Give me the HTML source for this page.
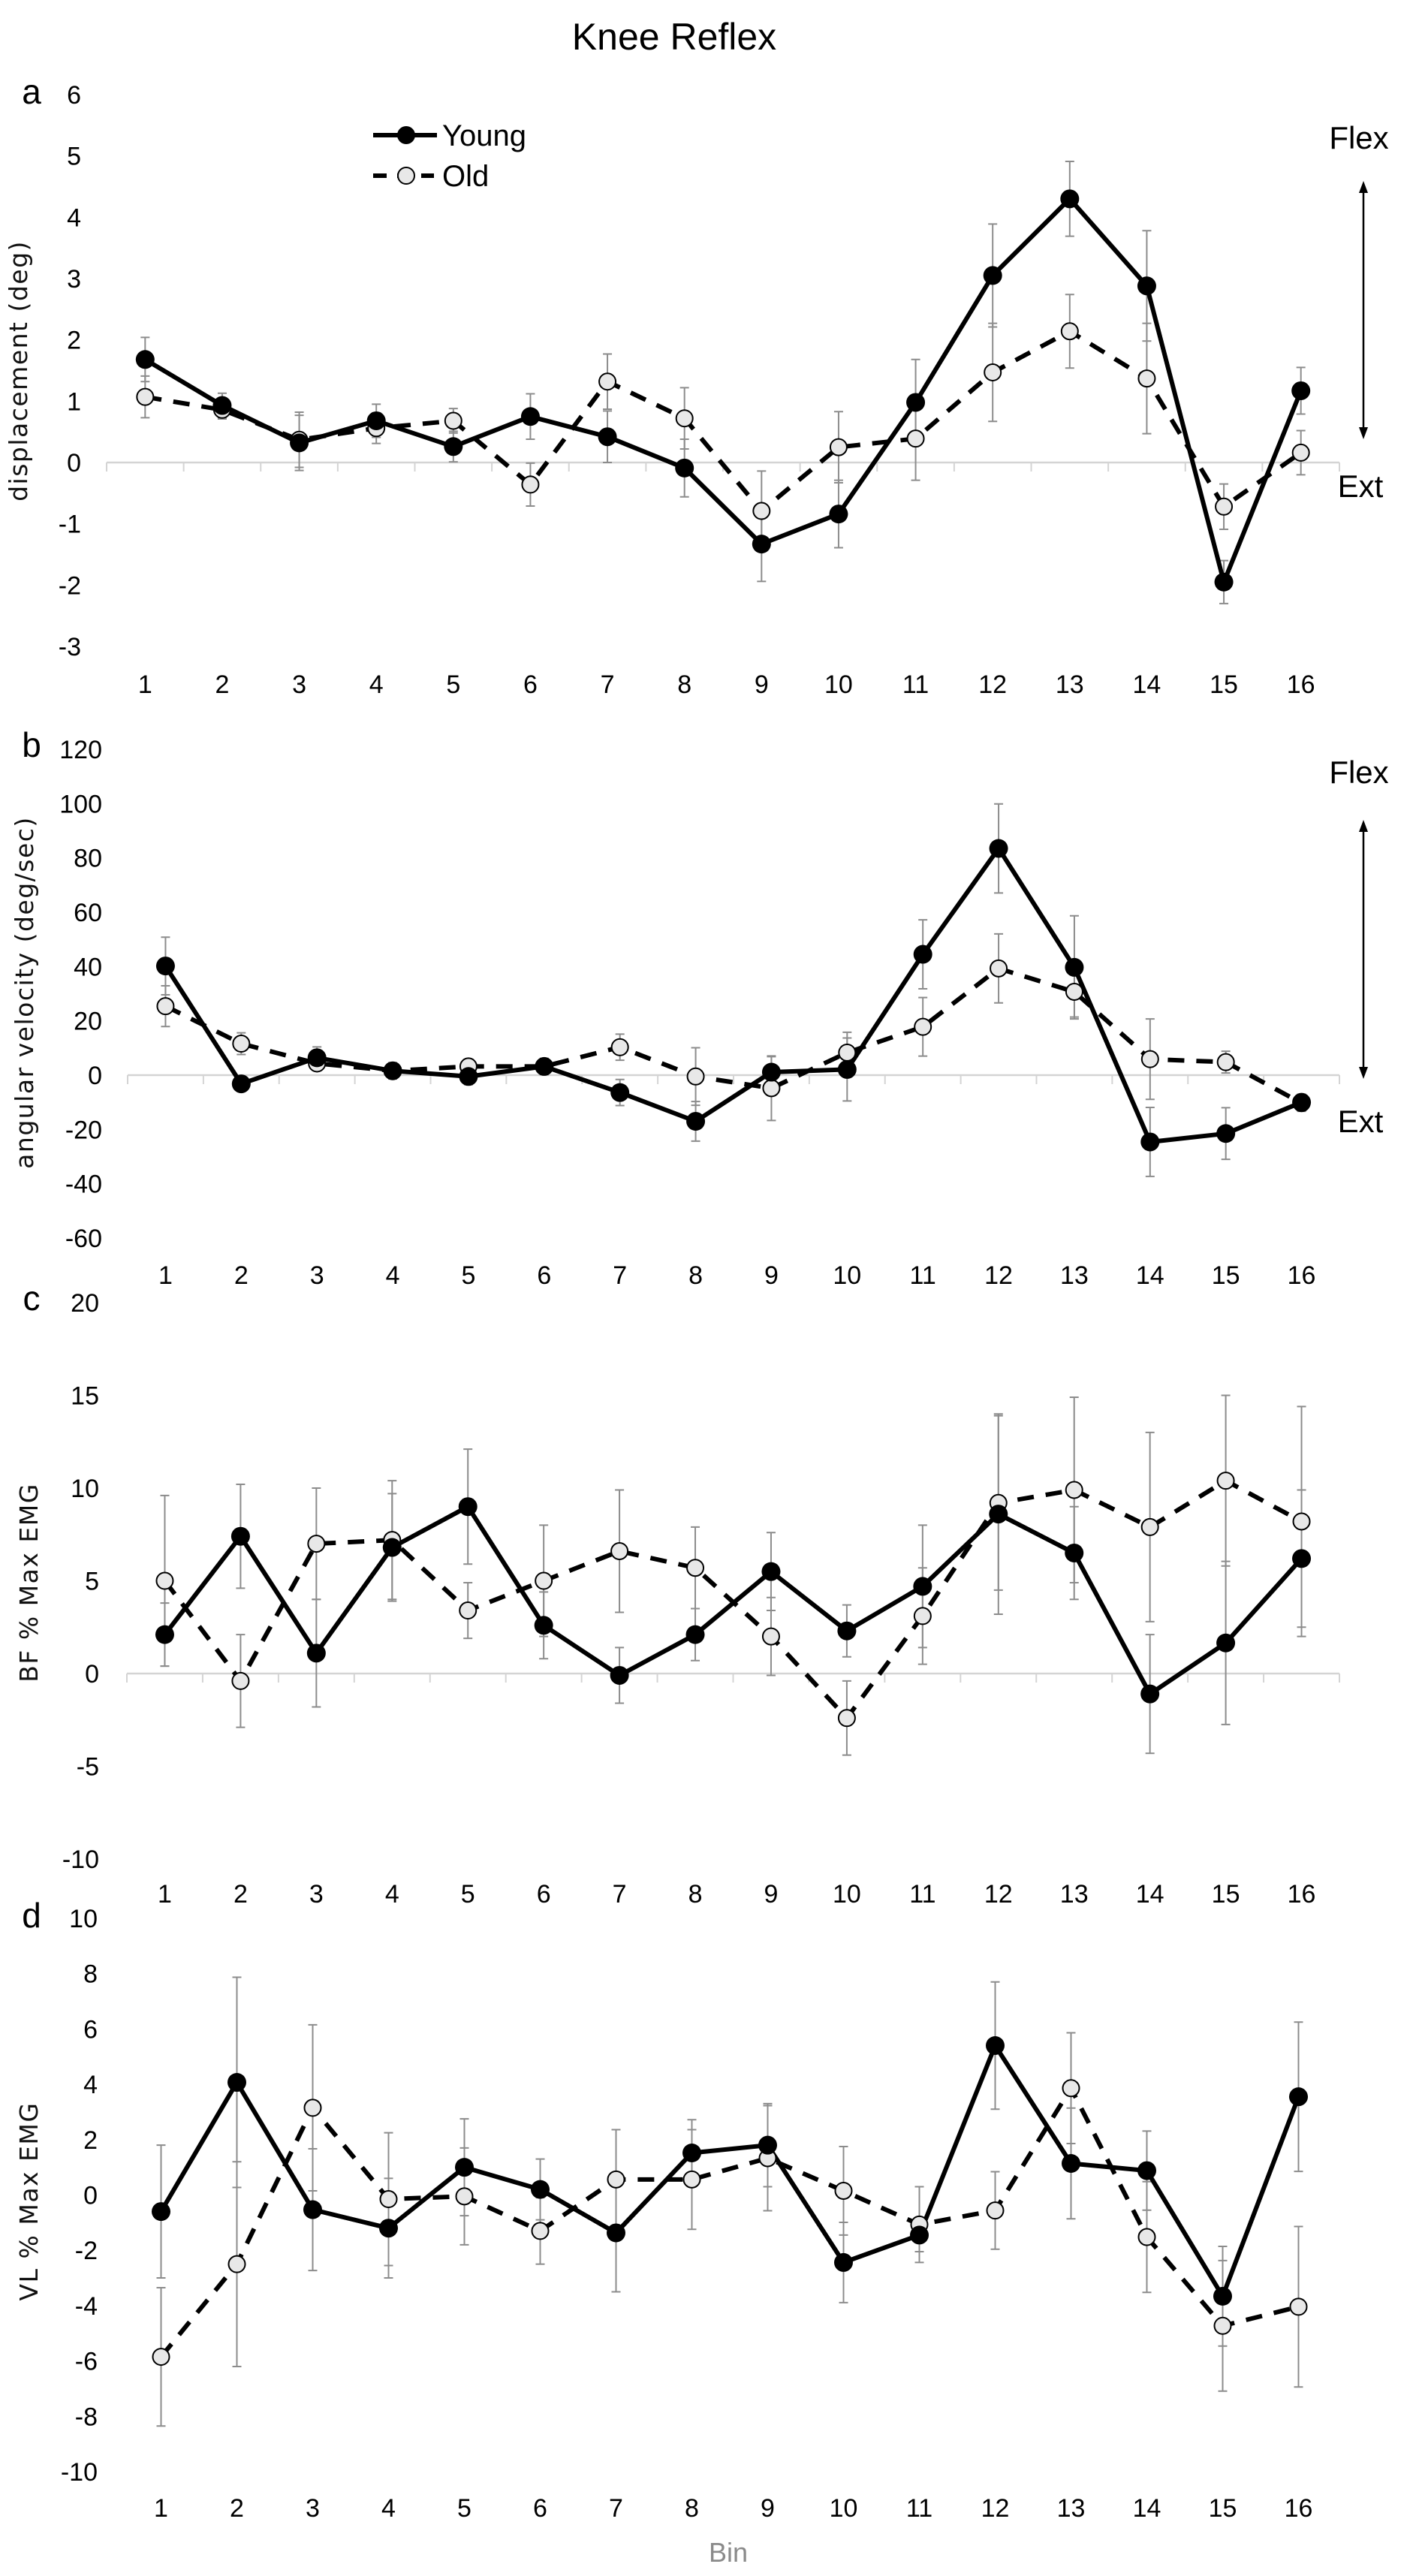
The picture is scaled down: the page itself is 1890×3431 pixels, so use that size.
<!DOCTYPE html>
<html><head><meta charset="utf-8"><style>
html,body{margin:0;padding:0;background:#fff;}
svg{display:block;}
text{font-family:"Liberation Sans Narrow","Liberation Sans",sans-serif;fill:#000;}
.ytitle{font-family:"DejaVu Sans","Liberation Sans",sans-serif;font-size:33px;fill:#111;}
</style></head><body>
<svg id="chart" width="1890" height="3431" viewBox="0 0 1890 3431" xmlns="http://www.w3.org/2000/svg">
<text x="898" y="66" font-size="50" text-anchor="middle">Knee Reflex</text>
<g>
<line x1="497" y1="180" x2="582" y2="180" stroke="#000" stroke-width="6"/>
<circle cx="541" cy="180" r="12" fill="#000"/>
<text x="589" y="194" font-size="40">Young</text>
<line x1="497" y1="234" x2="578" y2="234" stroke="#000" stroke-width="6" stroke-dasharray="18 14"/>
<circle cx="541" cy="234" r="11" fill="#e8e8e8" stroke="#000" stroke-width="2"/>
<text x="589" y="248" font-size="40">Old</text>
</g>
<g>
<text x="1810" y="198" font-size="42" text-anchor="middle">Flex</text>
<text x="1812" y="662" font-size="42" text-anchor="middle">Ext</text>
</g>
<g>
<text x="1810" y="1043" font-size="42" text-anchor="middle">Flex</text>
<text x="1812" y="1508" font-size="42" text-anchor="middle">Ext</text>
</g>
<text x="970" y="3412" font-size="36" text-anchor="middle" style="fill:#8a8a8a">Bin</text>
</svg>
<script>
const bins = ["1","2","3","4","5","6","7","8","9","10","11","12","13","14","15","16"];
const aYoung = [1.68,0.93,0.32,0.68,0.26,0.75,0.42,-0.09,-1.33,-0.84,0.98,3.05,4.3,2.88,-1.95,1.17];
const aYoungErr = [0.36,0.2,0.45,0.27,0.25,0.37,0.42,0.47,0.61,0.55,0.7,0.84,0.61,0.9,0.35,0.38];
const aOld = [1.07,0.86,0.37,0.56,0.68,-0.36,1.32,0.72,-0.79,0.25,0.39,1.47,2.14,1.37,-0.72,0.16];
const aOldErr = [0.34,0.15,0.45,0.25,0.2,0.35,0.45,0.5,0.65,0.58,0.68,0.8,0.6,0.9,0.37,0.36];
const aTicks = [6,5,4,3,2,1,0,-1,-2,-3];
const bYoung = [40.2,-3.2,6.4,1.6,-0.5,3.2,-6.4,-17,1.1,2.1,44.5,83.5,39.7,-24.6,-21.5,-10];
const bYoungErr = [10.6,2,4,3,3,3,4.8,7.3,5.7,11.6,12.7,16.4,19,12.7,9.5,3];
const bOld = [25.4,11.6,4.3,1.6,3.2,3.2,10.3,-0.5,-4.8,8.3,17.8,39.3,30.7,5.9,4.8,-10.3];
const bOldErr = [7.5,4,2,2,2,2,4.8,10.6,11.9,7.5,10.8,12.7,9.3,14.8,4,3];
const bTicks = [120,100,80,60,40,20,0,-20,-40,-60];
const cYoung = [2.1,7.4,1.1,6.8,9.0,2.6,-0.1,2.1,5.5,2.3,4.7,8.6,6.5,-1.1,1.65,6.2];
const cYoungErr = [1.7,2.8,2.9,2.9,3.1,1.8,1.5,1.4,2.1,1.4,3.3,5.4,2.5,3.2,4.4,3.7];
const cOld = [5.0,-0.4,7.0,7.2,3.4,5.0,6.6,5.7,2.0,-2.4,3.1,9.2,9.9,7.9,10.4,8.2];
const cOldErr = [4.6,2.5,3,3.2,1.5,3,3.3,2.2,2.1,2,2.6,4.7,5,5.1,4.6,6.2];
const cTicks = [20,15,10,5,0,-5,-10];
const dYoung = [-0.6,4.07,-0.53,-1.2,1.0,0.2,-1.37,1.52,1.8,-2.44,-1.45,5.4,1.14,0.88,-3.66,3.55];
const dYoungErr = [2.4,3.8,2.2,1.8,1.75,1.1,2.13,1.2,1.5,1.45,0.6,2.3,2.0,1.43,1.8,2.7];
const dOld = [-5.85,-2.5,3.15,-0.15,-0.05,-1.3,0.56,0.56,1.33,0.15,-1.07,-0.56,3.86,-1.52,-4.73,-4.04];
const dOldErr = [2.5,3.7,3.0,2.4,1.75,1.2,1.8,1.8,1.9,1.6,1.37,1.4,2.0,2.0,2.36,2.9];
const dTicks = [10,8,6,4,2,0,-2,-4,-6,-8,-10];

const NS = "http://www.w3.org/2000/svg";
const svg = document.getElementById("chart");
function mk(tag, attrs, parent){
  const e = document.createElementNS(NS, tag);
  for (const k in attrs) e.setAttribute(k, attrs[k]);
  (parent||svg).appendChild(e);
  return e;
}

function panel(cfg){
  const g = mk("g", {});
  
  
  const step = (cfg.x1 - cfg.x0) / bins.length;
  const xs = i => cfg.x0 + step * (i + 0.5);
  const ys = v => cfg.yTop + (cfg.vmax - v) / (cfg.vmax - cfg.vmin) * (cfg.yBot - cfg.yTop);
  // panel letter
  const lt = mk("text", {x: 42, y: cfg.letterY, "font-size": 46, "text-anchor": "middle"}, g);
  lt.textContent = cfg.id;
  
  
  // y ticks
  cfg.ticks.forEach(t => {
    const tx = mk("text", {x: cfg.tickX, y: ys(t) + 12, "font-size": 34, "text-anchor": "end"}, g);
    tx.textContent = String(t);
    
    
  });
  // y title
  const yt = mk("text", {x: 0, y: 0, class: "ytitle", "text-anchor": "middle", "letter-spacing": "1.5",
    transform: "translate(" + cfg.titleX + "," + cfg.titleY + ") rotate(-90)"}, g);
  yt.textContent = cfg.title;
  
  
  // zero axis
  if (cfg.axis) {
    const ax = mk("line", {x1: cfg.x0, x2: cfg.x1, y1: ys(0), y2: ys(0), stroke: "#d4d4d4", "stroke-width": 2.5}, g);
    
    
    for (let i = 0; i <= bins.length; i++) {
      const tk = mk("line", {x1: cfg.x0 + step * i, x2: cfg.x0 + step * i, y1: ys(0), y2: ys(0) + 12, stroke: "#d4d4d4", "stroke-width": 2}, g);
      
      
    }
  }
  // x labels
  bins.forEach((b, i) => {
    const tx = mk("text", {x: xs(i), y: cfg.xLabY + 12, "font-size": 34, "text-anchor": "middle"}, g);
    tx.textContent = b;
    
    
  });
  // error bars
  const drawErr = (vals, errs, name) => {
    vals.forEach((v, i) => {
      const x = xs(i), yh = ys(v + errs[i]), yl = ys(v - errs[i]);
      const eb = mk("path", {d: "M" + x + " " + yh + "V" + yl + "M" + (x - 6) + " " + yh + "H" + (x + 6) + "M" + (x - 6) + " " + yl + "H" + (x + 6),
        stroke: "#8c8c8c", "stroke-width": 2, fill: "none"}, g);
      
      
    });
  };
  drawErr(cfg.young, cfg.youngErr, "young");
  drawErr(cfg.old, cfg.oldErr, "old");
  // lines
  const pts = vals => vals.map((v, i) => xs(i).toFixed(1) + "," + ys(v).toFixed(1)).join(" ");
  const lo = mk("polyline", {points: pts(cfg.old), fill: "none", stroke: "#000", "stroke-width": 6, "stroke-dasharray": "22 16"}, g);
  
  
  const ly = mk("polyline", {points: pts(cfg.young), fill: "none", stroke: "#000", "stroke-width": 6, "stroke-linejoin": "round"}, g);
  
  
  cfg.old.forEach((v, i) => {
    const c = mk("circle", {cx: xs(i), cy: ys(v), r: 11, fill: "#e8e8e8", stroke: "#000", "stroke-width": 2}, g);
    
    
  });
  cfg.young.forEach((v, i) => {
    const c = mk("circle", {cx: xs(i), cy: ys(v), r: 12.5, fill: "#000"}, g);
    
    
  });
}

function arrow(x, y1, y2, name){
  const a = mk("g", {});
  
  
  mk("line", {x1: x, x2: x, y1: y1 + 10, y2: y2 - 10, stroke: "#000", "stroke-width": 2.5}, a);
  mk("path", {d: "M" + x + " " + y1 + "l-6 16h12z", fill: "#000"}, a);
  mk("path", {d: "M" + x + " " + y2 + "l-6 -16h12z", fill: "#000"}, a);
}

panel({id: "a", x0: 142, x1: 1784, yTop: 126, yBot: 861, vmax: 6, vmin: -3, ticks: aTicks, tickX: 108,
  letterY: 138, title: "displacement (deg)", titleX: 36, titleY: 494, xLabY: 911, axis: true,
  young: aYoung, youngErr: aYoungErr, old: aOld, oldErr: aOldErr});
panel({id: "b", x0: 170, x1: 1784, yTop: 998, yBot: 1649, vmax: 120, vmin: -60, ticks: bTicks, tickX: 136,
  letterY: 1008, title: "angular velocity (deg/sec)", titleX: 44, titleY: 1322, xLabY: 1698, axis: true,
  young: bYoung, youngErr: bYoungErr, old: bOld, oldErr: bOldErr});
panel({id: "c", x0: 169, x1: 1784, yTop: 1735, yBot: 2476, vmax: 20, vmin: -10, ticks: cTicks, tickX: 132,
  letterY: 1745, title: "BF % Max EMG", titleX: 50, titleY: 2108, xLabY: 2522, axis: true,
  young: cYoung, youngErr: cYoungErr, old: cOld, oldErr: cOldErr});
panel({id: "d", x0: 164, x1: 1780, yTop: 2555, yBot: 3292, vmax: 10, vmin: -10, ticks: dTicks, tickX: 130,
  letterY: 2567, title: "VL % Max EMG", titleX: 50, titleY: 2932, xLabY: 3340, axis: false,
  young: dYoung, youngErr: dYoungErr, old: dOld, oldErr: dOldErr});
arrow(1816, 241, 585, "flex-ext-arrow-a");
arrow(1816, 1092, 1437, "flex-ext-arrow-b");
</script>
</body></html>
